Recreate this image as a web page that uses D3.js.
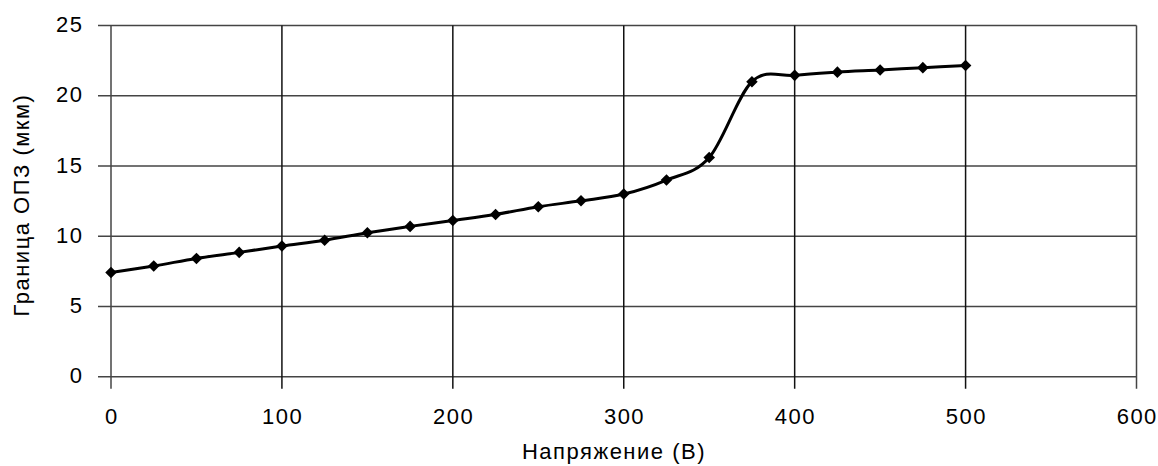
<!DOCTYPE html>
<html><head><meta charset="utf-8">
<script src="https://cdn.jsdelivr.net/npm/d3@7"></script>
<style>
html,body{margin:0;padding:0;background:#fff;}
svg text{font-family:"Liberation Sans",Arial,sans-serif;fill:#000;}
</style></head>
<body><svg id="c" width="1158" height="466"></svg>
<script>
const voltage = [0,25,50,75,100,125,150,175,200,225,250,275,300,325,350,375,400,425,450,475,500];
const boundary = [7.42,7.88,8.42,8.85,9.3,9.72,10.25,10.7,11.12,11.55,12.1,12.52,13.0,14.0,15.6,21.0,21.45,21.68,21.83,22.0,22.15];
const xTicks = [0,100,200,300,400,500,600];
const yTicks = [0,5,10,15,20,25];
const xTitle = "Напряжение (В)";
const yTitle = "Граница ОПЗ (мкм)";

const svg = d3.select("#c");
const L=111, R=1136.5, T=25.5, B=376.7;
const x = d3.scaleLinear().domain([0,600]).range([L,R]);
const y = d3.scaleLinear().domain([0,25]).range([B,T]);
const FS = 22, LS = "1.5px";

// horizontal gridlines
svg.append("g").selectAll("line").data(yTicks).join("line")
  .attr("x1",L-13).attr("x2",R).attr("y1",d=>y(d)).attr("y2",d=>y(d))
  .attr("stroke","#444").attr("stroke-width",1.6);
// vertical gridlines
svg.append("g").selectAll("line").data(xTicks).join("line")
  .attr("x1",d=>x(d)).attr("x2",d=>x(d)).attr("y1",T).attr("y2",B+12)
  .attr("stroke",(d)=> d===0||d===600 ? "#444" : "#111").attr("stroke-width",1.5);

// tick labels
svg.append("g").selectAll("text").data(yTicks).join("text")
  .attr("x",L-27.5).attr("y",d=>y(d)).attr("dy","0.3em").attr("text-anchor","end")
  .attr("font-size",FS).attr("letter-spacing",LS).text(d=>d);
svg.append("g").selectAll("text").data(xTicks).join("text")
  .attr("x",d=>x(d)+0.75).attr("y",424.3).attr("text-anchor","middle")
  .attr("font-size",FS).attr("letter-spacing",LS).text(d=>d);

// titles
svg.append("text").attr("x",614).attr("y",459).attr("text-anchor","middle")
  .attr("font-size",FS).attr("letter-spacing",LS).text(xTitle);
svg.append("text").attr("transform","translate(29,205) rotate(-90)").attr("text-anchor","middle")
  .attr("font-size",FS).attr("letter-spacing",LS).text(yTitle);

// line
const pts = voltage.map((v,i)=>[v,boundary[i]]);
const line = d3.line().x(d=>x(d[0])).y(d=>y(d[1])).curve(d3.curveCardinal.tension(0));
svg.append("path").datum(pts).attr("d",line).attr("fill","none")
  .attr("stroke","#000").attr("stroke-width",3);

// diamond markers
const sym = d3.symbol().type(d3.symbolDiamond2).size(85);
svg.append("g").selectAll("path").data(pts).join("path")
  .attr("transform",d=>`translate(${x(d[0])},${y(d[1])})`)
  .attr("d",sym).attr("fill","#000");
</script></body></html>
